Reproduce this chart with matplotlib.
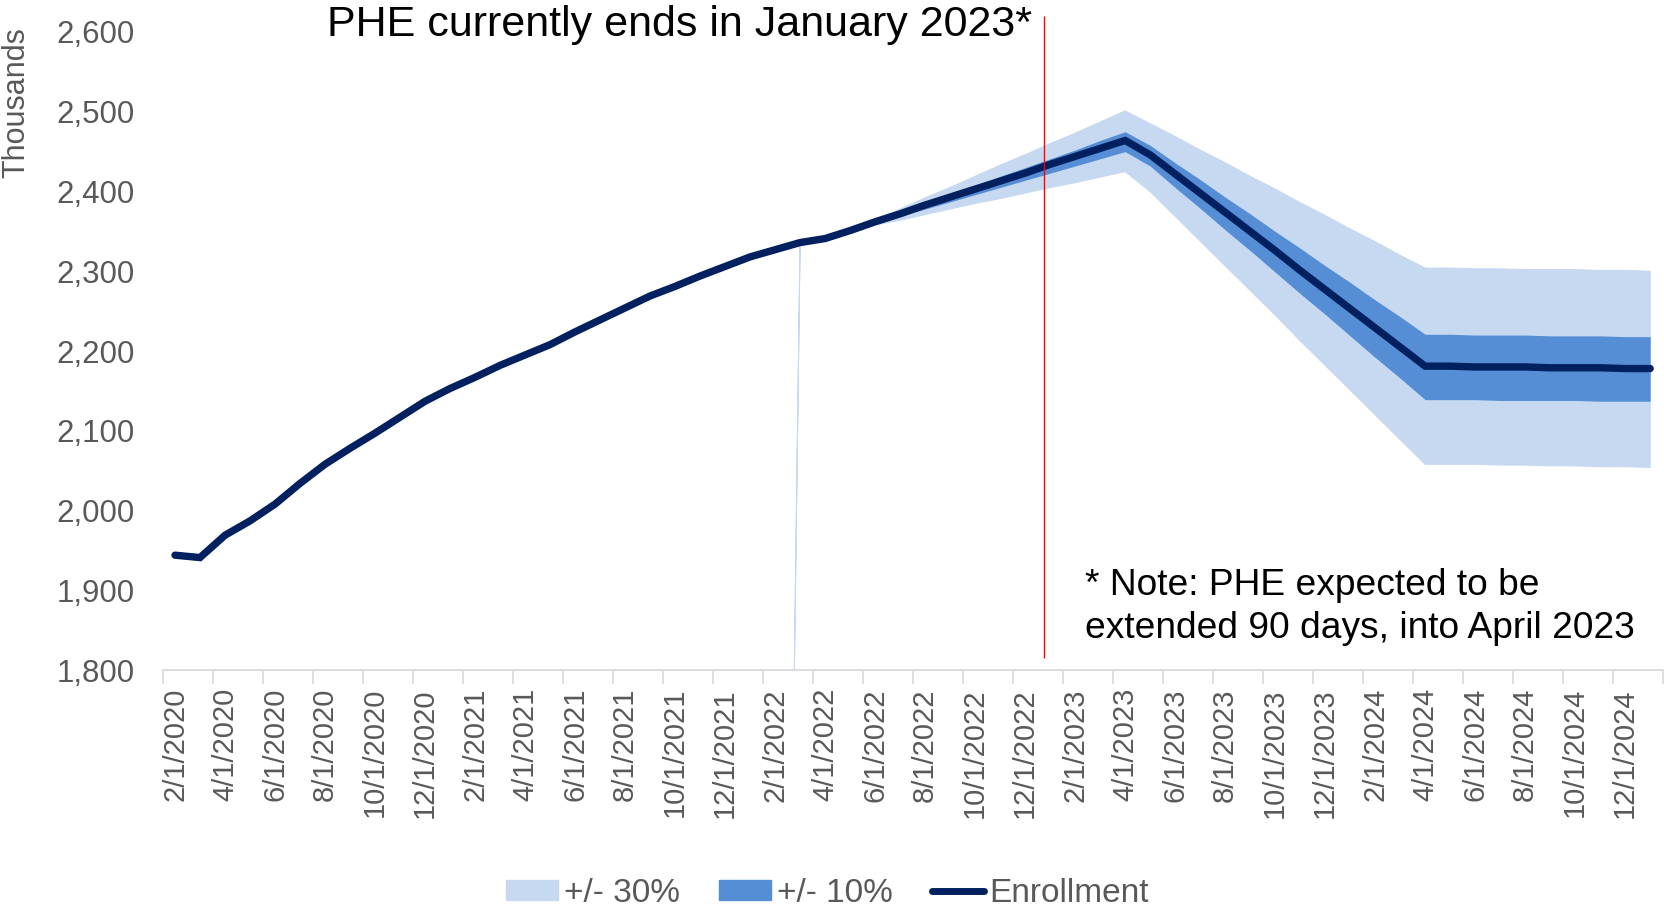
import numpy as np
import matplotlib
matplotlib.use("Agg")
import matplotlib.pyplot as plt
from matplotlib.patches import Patch
from matplotlib.lines import Line2D

plt.rcParams['font.family'] = ['Liberation Sans', 'DejaVu Sans']

# monthly enrollment (thousands), 2/1/2020 .. 1/1/2025
enrollment = [1944, 1941, 1969, 1987, 2008, 2034, 2058, 2078, 2097, 2117,
              2137, 2153, 2167, 2182, 2195, 2208, 2224, 2239, 2254, 2269,
              2281, 2294, 2306, 2318, 2327, 2336, 2341, 2351, 2362, 2372,
              2383, 2393, 2403, 2413, 2423, 2434, 2444, 2454, 2464, 2446,
              2422, 2398, 2374, 2350, 2326, 2301, 2277, 2253, 2229, 2205,
              2181, 2181, 2180, 2180, 2180, 2179, 2179, 2179, 2178, 2178]

# forecast bands start at month index 24 (2/1/2022)
band_start = 24
hi30 = [0, 2336, 2341, 2351, 2365, 2378, 2392, 2405, 2419, 2433, 2446, 2460,
        2473, 2487, 2501, 2485, 2469, 2452, 2436, 2419, 2403, 2386, 2370, 2353,
        2337, 2320, 2304, 2304, 2303, 2303, 2302, 2302, 2302, 2301, 2301, 2300]
lo30 = [0, 2336, 2341, 2351, 2358, 2364, 2371, 2378, 2385, 2391, 2398, 2405,
        2411, 2418, 2425, 2400, 2369, 2338, 2307, 2276, 2245, 2213, 2182, 2151,
        2120, 2089, 2058, 2058, 2058, 2057, 2057, 2056, 2056, 2055, 2055, 2054]
hi10 = [2336, 2341, 2351, 2363, 2374, 2385, 2396, 2407, 2419, 2430, 2441,
        2452, 2464, 2475, 2458, 2436, 2415, 2393, 2372, 2350, 2329, 2307, 2286,
        2264, 2243, 2221, 2221, 2220, 2220, 2220, 2219, 2219, 2219, 2218, 2218]
lo10 = [2336, 2341, 2351, 2360, 2369, 2378, 2387, 2396, 2405, 2414, 2423,
        2432, 2441, 2450, 2432, 2405, 2379, 2352, 2326, 2299, 2272, 2246, 2219,
        2192, 2166, 2139, 2139, 2139, 2138, 2138, 2138, 2138, 2137, 2137, 2137]

tick_labels = ['2/1/2020', '4/1/2020', '6/1/2020', '8/1/2020', '10/1/2020',
               '12/1/2020', '2/1/2021', '4/1/2021', '6/1/2021', '8/1/2021',
               '10/1/2021', '12/1/2021', '2/1/2022', '4/1/2022', '6/1/2022',
               '8/1/2022', '10/1/2022', '12/1/2022', '2/1/2023', '4/1/2023',
               '6/1/2023', '8/1/2023', '10/1/2023', '12/1/2023', '2/1/2024',
               '4/1/2024', '6/1/2024', '8/1/2024', '10/1/2024', '12/1/2024']

phe_month = 34.76  # PHE end marker, in months after 2/1/2020

light = '#C6D9F0'
mid = '#558ED5'
navy = '#002060'
grey = '#595959'

x = np.arange(len(enrollment))
xb30 = np.arange(band_start, band_start + len(hi30))
xb10 = np.arange(band_start + 1, band_start + 1 + len(hi10))

fig = plt.figure(figsize=(16.65, 9.09), dpi=100)
ax = fig.add_axes([0.0976, 0.2629, 0.901, 0.7019])

ax.fill_between(xb30, lo30, hi30, color=light, lw=0.8, edgecolor=light, zorder=1)
ax.fill_between(xb10, lo10, hi10, color=mid, lw=0, zorder=2)
ax.plot(x, enrollment, color=navy, lw=5.3, solid_capstyle='round',
        solid_joinstyle='miter', zorder=3)

ax.vlines(phe_month, 1815, 2620, color='#FF0000', lw=1.0, zorder=4, clip_on=False)

ax.set_xlim(-0.5, len(enrollment) - 0.5)
ax.set_ylim(1800, 2600)
ax.set_yticks(np.arange(1800, 2601, 100))
ax.set_yticklabels([f'{v:,}' for v in range(1800, 2601, 100)])

ax.set_xticks(np.arange(-0.5, len(enrollment), 2))
ax.set_xticklabels([])
ax.set_xticks(np.arange(0, len(enrollment), 2), minor=True)
ax.set_xticklabels(tick_labels, minor=True, rotation=90)
ax.tick_params(axis='x', which='major', length=10, width=1.2, color='#D9D9D9')
ax.tick_params(axis='x', which='minor', length=0, pad=13, labelsize=21,
               labelcolor=grey)
ax.tick_params(axis='y', length=0, pad=20, labelsize=22.5, labelcolor=grey)

for s in ['top', 'right', 'left']:
    ax.spines[s].set_visible(False)
ax.spines['bottom'].set_color('#D9D9D9')
ax.spines['bottom'].set_linewidth(1.3)

fig.text(0.0096, 1 - 103 / 909, 'Thousands', rotation=90, ha='center',
         va='center', fontsize=22, color=grey)
fig.text(680 / 1665, 1 - 25 / 909, 'PHE currently ends in January 2023*',
         ha='center', va='center', fontsize=31, color='black')
fig.text(1085 / 1665, 1 - 607 / 909,
         '* Note: PHE expected to be\nextended 90 days, into April 2023',
         ha='left', va='center', fontsize=26.7, color='black', linespacing=1.3)

handles = [Patch(color=light, label='+/- 30%'),
           Patch(color=mid, label='+/- 10%'),
           Line2D([0], [0], color=navy, lw=5, solid_capstyle='round',
                  label='Enrollment')]
fig.legend(handles=handles, loc='center', bbox_to_anchor=(0.497, 0.017),
           ncol=3, frameon=False, fontsize=24, handlelength=1.56,
           handleheight=0.55, handletextpad=0.18, columnspacing=1.17,
           labelcolor=grey)

fig.savefig('out.png', dpi=100)
